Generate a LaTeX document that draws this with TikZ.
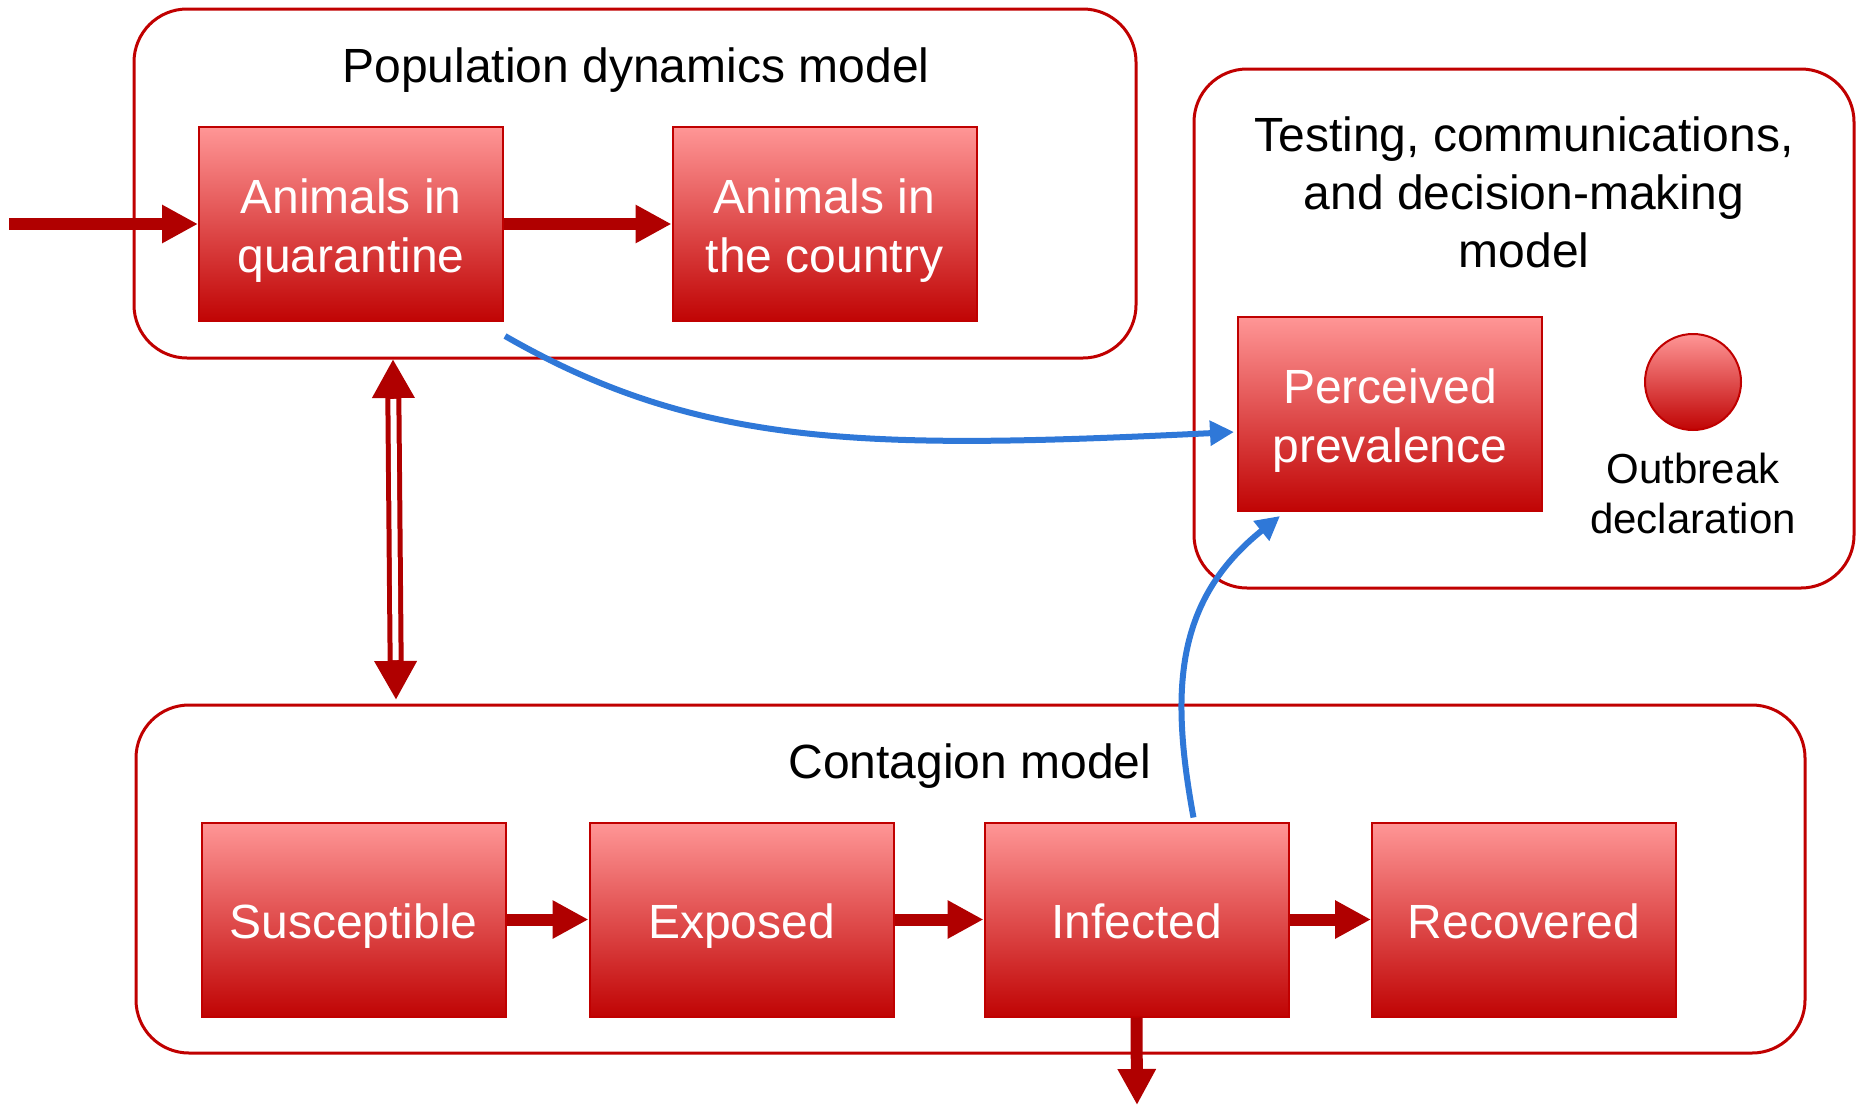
\documentclass[tikz,border=0pt]{standalone}
\usepackage{fontspec}
\setmainfont{Liberation Sans}
\usetikzlibrary{arrows.meta}
\definecolor{dred}{RGB}{176,0,0}
\definecolor{bord}{RGB}{192,0,0}
\definecolor{boxtop}{RGB}{255,150,150}
\definecolor{boxbot}{RGB}{192,4,4}
\definecolor{blu}{RGB}{47,120,216}
\newcommand\lstrut{\rule[-10.2pt]{0pt}{58.6pt}}
\tikzset{
  rbox/.style={draw=bord, line width=2pt, top color=boxtop, bottom color=boxbot,
    minimum width=304pt, minimum height=194pt, inner sep=0pt, align=center,
    text=white, font=\fontsize{48}{56}\selectfont},
  cont/.style={draw=bord, line width=3pt, rounded corners=53pt, inner sep=0pt, fill=none},
  ttl/.style={inner sep=0pt, align=center, font=\fontsize{48}{58}\selectfont},
  thk/.style={dred, line width=12pt, -{Triangle[length=36pt,width=36pt]}},
  bluarr/.style={blu, line width=6pt, -{Triangle[length=24pt,width=24pt]}},
}
\begin{document}
\begin{tikzpicture}[x=1pt,y=-1pt]
\useasboundingbox (0,0) rectangle (1860,1106);
% containers
\node[cont, minimum width=1002pt, minimum height=349pt] (pop) at (635,183.5) {};
\node[cont, minimum width=660pt, minimum height=519pt] (test) at (1524,328.5) {};
\node[cont, minimum width=1669pt, minimum height=348pt] (cont) at (970.5,879) {};
% titles
\node[ttl] (poptitle) at (636,70) {Population dynamics model};
\node[ttl] (testtitle) at (1524,192) {Testing, communications,\\and decision-making\\model};
\node[ttl] (conttitle) at (970,766) {Contagion model};
% boxes
\node[rbox] (aq) at (351,224) {\lstrut Animals in\\\lstrut quarantine};
\node[rbox] (ac) at (824.5,224) {\lstrut Animals in\\\lstrut the country};
\node[rbox] (pp) at (1390,414) {\lstrut Perceived\\\lstrut prevalence};
\node[rbox] (sus) at (353.5,919.5) {\lstrut Susceptible};
\node[rbox] (exp) at (741.5,919.5) {\lstrut Exposed};
\node[rbox] (inf) at (1136.5,919.5) {\lstrut Infected};
\node[rbox] (rec) at (1524,919.5) {\lstrut Recovered};
\node[circle, draw=bord, line width=2pt, top color=boxtop, bottom color=boxbot,
  minimum size=96pt, inner sep=0pt] (ob) at (1693,382) {};
\node[inner sep=0pt, align=center, font=\fontsize{42}{50}\selectfont] (oblabel) at (1693,493) {Outbreak\\declaration};
% connectors
\coordinate (in) at (9,224);
\coordinate (out) at (1137,1105);
\draw[thk] (in) -- (aq.west);
\draw[thk] (aq.east) -- (ac.west);
\draw[thk] (sus.east) -- (exp.west);
\draw[thk] (exp.east) -- (inf.west);
\draw[thk] (inf.east) -- (rec.west);
\draw[thk] (inf.south) -- (out);
% double arrow
\coordinate (dtop) at (393,359);
\coordinate (dbot) at (396,700);
\draw[dred, line width=16pt, {Triangle[length=39pt,width=40pt]}-{Triangle[length=39pt,width=40pt]}] (dtop) -- (dbot);
\draw[white, line width=6pt, shorten <=40pt, shorten >=40pt] (dtop) -- (dbot);
% blue curves
\draw[bluarr] ([shift={(1,14)}]aq.south east) .. controls (700,448) and (866,450) .. ([shift={(-3,18)}]pp.west);
\draw[bluarr] ([shift={(57,-4)}]inf.north) .. controls (1170,690) and (1175,600) .. ([shift={(43,4)}]pp.south west);
\end{tikzpicture}
\end{document}
